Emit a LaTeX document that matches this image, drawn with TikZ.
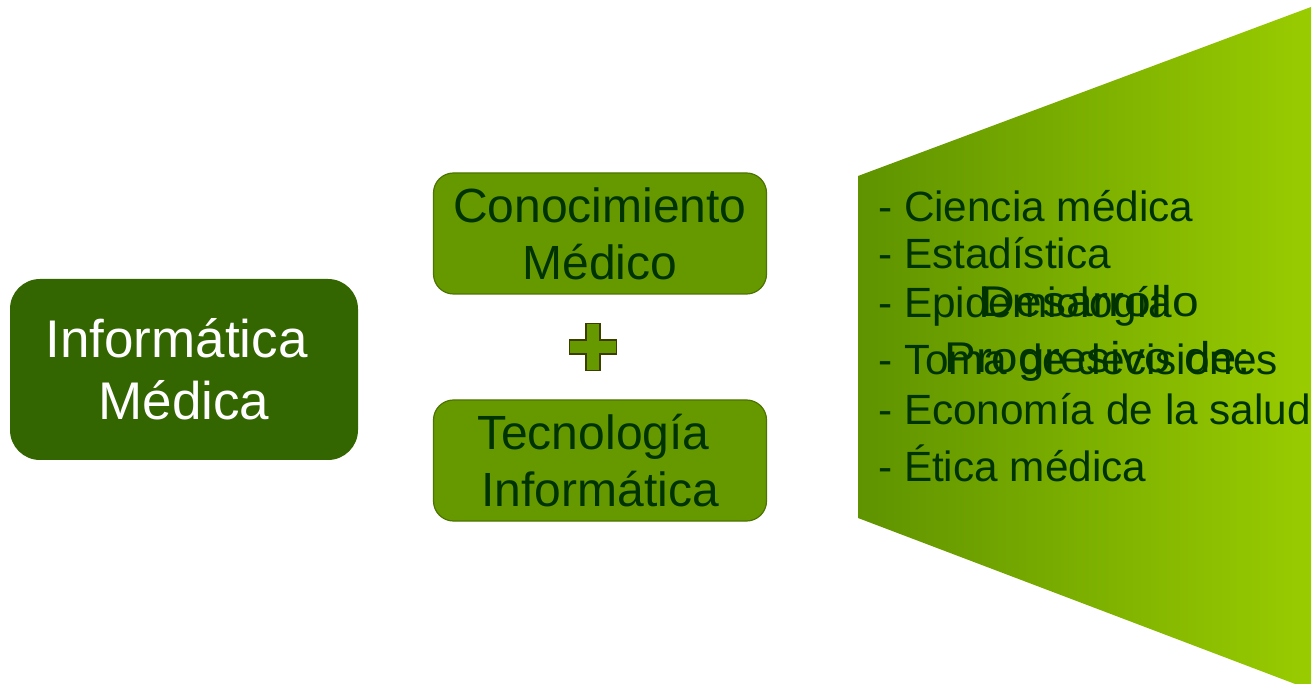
\documentclass[tikz,border=0pt]{standalone}
\usepackage{fontspec}
\setmainfont{Liberation Sans}
\definecolor{darkbox}{HTML}{336600}
\definecolor{midfill}{HTML}{669900}
\definecolor{midedge}{HTML}{4D7300}
\definecolor{txtdark}{HTML}{003300}
\definecolor{gradL}{HTML}{5F9300}
\definecolor{gradR}{HTML}{99CC00}
\definecolor{plusedge}{HTML}{3D3D00}
\tikzset{
  bigbox/.style={fill=darkbox, rounded corners=30pt, minimum width=348pt, minimum height=181pt, inner sep=0pt, align=center, text=white, font=\fontsize{53}{62}\selectfont},
  midbox/.style={fill=midfill, draw=midedge, line width=1.2pt, rounded corners=20pt, minimum width=333pt, minimum height=121pt, inner sep=0pt, align=center, text=txtdark, font=\fontsize{48}{57}\selectfont},
  listtxt/.style={anchor=base west, inner sep=0pt, text=txtdark, font=\fontsize{42.3}{50}\selectfont},
  overtxt/.style={anchor=base, inner sep=0pt, text=txtdark, font=\fontsize{43}{50}\selectfont},
}
\begin{document}
\begin{tikzpicture}[x=1pt,y=-1pt]
\useasboundingbox (0,0) rectangle (1315,684);
% right trapezoid with gradient
\shade[left color=gradL, right color=gradR] (858,176) -- (1311,7) -- (1311,690) -- (858,518) -- cycle;
% left box
\node[bigbox] (im) at (184,369.5) {\mbox{Informática\ }\\Médica};
% middle boxes
\node[midbox] (cm) at (600,233.5) {Conocimiento\\Médico};
\node[midbox] (ti) at (600,460.5) {\mbox{Tecnología\ }\\Informática};
% plus sign
\draw[fill=midfill, draw=plusedge, line width=1.2pt]
  (586,323.5) -- (600,323.5) -- (600,340) -- (616.5,340) -- (616.5,354) -- (600,354)
  -- (600,370.5) -- (586,370.5) -- (586,354) -- (569.5,354) -- (569.5,340) -- (586,340) -- cycle;
% list
\node[listtxt] (l1) at (878,222) {- Ciencia médica};
\node[listtxt] (l2) at (878,269) {- Estadística};
\node[listtxt] (l3) at (878,318) {- Epidemiología};
\node[listtxt] (l4) at (878,375) {- Toma de decisiones};
\node[listtxt] (l5) at (878,425) {- Economía de la salud};
\node[listtxt] (l6) at (878,482) {- Ética médica};
% overlapping title (horizontally stretched)
\node[overtxt] (d1) at (1090,317) {\scalebox{1.115}[1]{Desarrollo}};
\node[overtxt] (d2) at (1097.5,373) {\scalebox{1.105}[1]{Progresivo de:}};
\end{tikzpicture}
\end{document}
